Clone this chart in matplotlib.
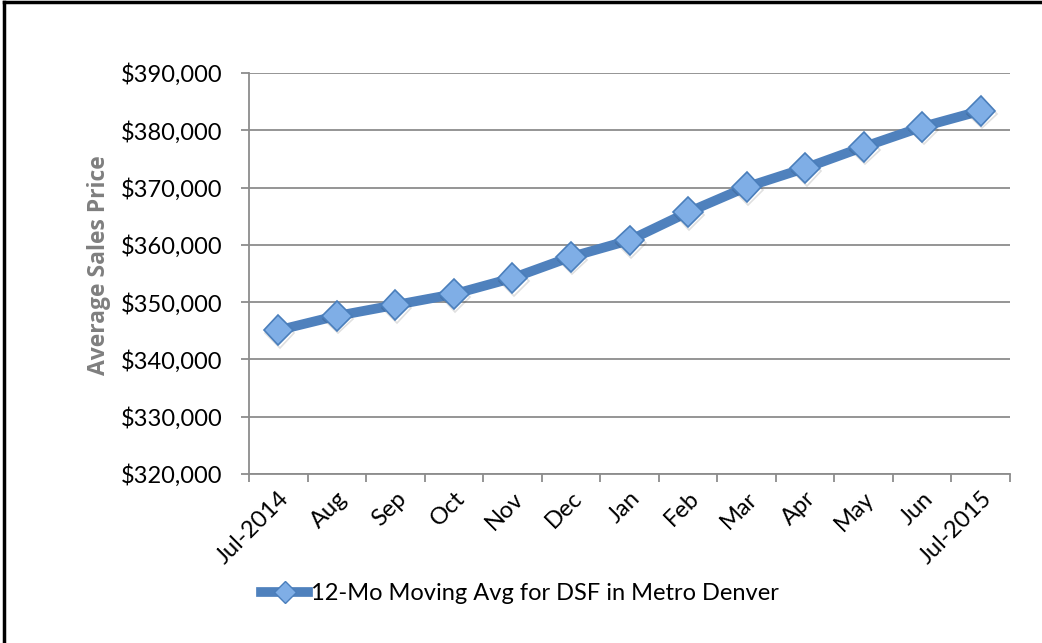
import matplotlib
matplotlib.use("Agg")
import matplotlib.pyplot as plt
import matplotlib.patheffects as pe
from matplotlib.ticker import FuncFormatter, MultipleLocator
from matplotlib.lines import Line2D

months = ["Jul-2014", "Aug", "Sep", "Oct", "Nov", "Dec", "Jan",
          "Feb", "Mar", "Apr", "May", "Jun", "Jul-2015"]
avg_price = [345100, 347600, 349500, 351400, 354200, 357900, 360800,
             365700, 370100, 373400, 377100, 380600, 383400]
series_label = "12-Mo Moving Avg for DSF in Metro Denver"

plt.rcParams["font.family"] = ["Lato", "DejaVu Sans"]

W, H = 1042, 643
fig = plt.figure(figsize=(W / 100, H / 100), dpi=100)
ax = fig.add_axes([249 / W, 1 - 474 / H, (1010 - 249) / W, (474 - 73) / H])

line_col = "#4F81BD"
grid_col = "#8C8C8C"
fs = 17

x = list(range(len(months)))
ax.plot(x, avg_price, color=line_col, lw=7, solid_joinstyle="round",
        solid_capstyle="round", zorder=3)
ax.plot(x, avg_price, ls="none", marker="D", ms=15, mfc="#7FAEE6",
        mec="#4A7EBB", mew=1.2, zorder=4,
        path_effects=[pe.SimpleLineShadow(offset=(1.0, -2.0), alpha=0.12,
                                          shadow_color="black"),
                      pe.Normal()])

ax.set_xlim(-0.5, len(months) - 0.5)
ax.set_ylim(320000, 390000)
ax.yaxis.set_major_locator(MultipleLocator(10000))
ax.yaxis.set_major_formatter(FuncFormatter(lambda v, p: f"${v:,.0f}"))
ax.grid(axis="y", color=grid_col, lw=1.3, zorder=0)
ax.set_axisbelow(True)

ax.set_xticks(x)
ax.set_xticklabels(months, rotation=45, ha="right", rotation_mode="anchor",
                   fontsize=fs)
ax.tick_params(axis="x", which="major", length=0, pad=10)
ax.set_xticks([i - 0.5 for i in range(len(months) + 1)], minor=True)
ax.tick_params(axis="x", which="minor", length=6, width=1.3, color=grid_col,
               direction="out")
ax.tick_params(axis="y", length=6, width=1.3, color=grid_col, labelsize=fs,
               pad=13)

for s in ["top", "right"]:
    ax.spines[s].set_visible(False)
for s in ["left", "bottom"]:
    ax.spines[s].set_color(grid_col)
    ax.spines[s].set_linewidth(1.3)

ax.set_ylabel("Average Sales Price", fontsize=16.5, fontweight="bold",
              family=["Open Sans", "DejaVu Sans"], color="#7F7F7F")
ax.yaxis.set_label_coords((111 - 249) / (1010 - 249), 0.52)

handle = Line2D([], [], color=line_col, lw=7, marker="D", ms=11,
                mfc="#7FAEE6", mec="#4A7EBB", mew=1.0)
leg = fig.legend([handle], [series_label], loc="center left",
                 bbox_to_anchor=(240 / W, 1 - 594 / H), frameon=False,
                 fontsize=fs, handlelength=2.0, handletextpad=0.1)

# outer frame: left and top edges
fig.add_artist(Line2D([4 / W, 4 / W], [0, 1 - 2 / H], color="black", lw=2.5,
                      transform=fig.transFigure))
fig.add_artist(Line2D([4 / W, 1], [1 - 2 / H, 1 - 2 / H], color="black",
                      lw=2.5, transform=fig.transFigure))

fig.savefig("out.png", dpi=100, facecolor="white")
